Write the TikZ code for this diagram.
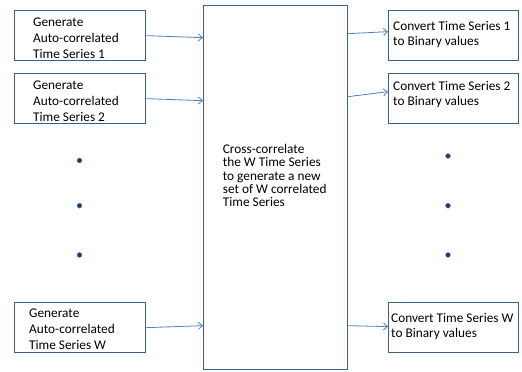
\documentclass[tikz,border=0pt]{standalone}
\usepackage{fontspec}
\setmainfont{Carlito}
\usetikzlibrary{arrows.meta}
\definecolor{boxc}{HTML}{3A5F8F}
\definecolor{arrc}{HTML}{5080C0}
\definecolor{dotc}{HTML}{1F3864}
\tikzset{
  box/.style={draw=boxc, line width=1.3pt, minimum width=131pt, minimum height=50pt, inner sep=0pt, anchor=north west},
  txt/.style={anchor=north west, inner sep=0pt, align=left, font=\fontsize{13.3}{16}\selectfont},
  rtxt/.style={txt, font=\fontsize{13.3}{15}\selectfont},
  arr/.style={draw=arrc, line width=0.8pt, -{Straight Barb[length=4pt,width=7pt]}},
  blob/.style={circle, fill=dotc, draw=arrc, line width=0.5pt, minimum size=4.8pt, inner sep=0pt}
}
\begin{document}
\begin{tikzpicture}[x=1pt,y=-1pt]
\fill[white] (0,0) rectangle (522,372);
\useasboundingbox (0,0) rectangle (522,372);
% left boxes
\node[box] (L1) at (14,10) {};
\node[box] (L2) at (14,73) {};
\node[box] (LW) at (14,302) {};
% center box
\node[box, minimum width=144pt, minimum height=364pt] (C) at (203,5) {};
% right boxes
\node[box, minimum width=130pt] (R1) at (388,10) {};
\node[box, minimum width=130pt] (R2) at (388,73) {};
\node[box, minimum width=130pt] (RW) at (388,302) {};
% texts
\node[txt] (tL1) at (33,18) {Generate\\Auto-correlated\\Time Series 1};
\node[txt] (tL2) at (33,81) {Generate\\Auto-correlated\\Time Series 2};
\node[txt] (tLW) at (29,309) {Generate\\Auto-correlated\\Time Series W};
\node[rtxt] (tR1) at (393,21) {Convert Time Series 1\\to Binary values};
\node[rtxt] (tR2) at (393,81) {Convert Time Series 2\\to Binary values};
\node[rtxt] (tRW) at (391,313) {Convert Time Series W\\to Binary values};
\node[txt, font=\fontsize{13.3}{13.35}\selectfont] (tC) at (222.7,144) {Cross-correlate\\the W Time Series\\to generate a new\\set of W correlated\\Time Series};
% dots
\node[blob] (dl1) at (79.5,160.5) {};
\node[blob] (dl2) at (79.5,205.7) {};
\node[blob] (dl3) at (79.5,255) {};
\node[blob] (dr1) at (448,156) {};
\node[blob] (dr2) at (448,205.7) {};
\node[blob] (dr3) at (448,255) {};
% arrows
\draw[arr] (L1.east) -- ([yshift=-2pt]C.west |- L1.east);
\draw[arr] (L2.east) -- ([yshift=-2pt]C.west |- L2.east);
\draw[arr] (LW.east) -- ([yshift=2pt]C.west |- LW.east);
\draw[arr] ([yshift=2pt]C.east |- R1.west) -- ([yshift=4pt]R1.west);
\draw[arr] ([yshift=2pt]C.east |- R2.west) -- ([yshift=7pt]R2.west);
\draw[arr] ([yshift=2pt]C.east |- RW.west) -- ([yshift=1pt]RW.west);
\end{tikzpicture}
\end{document}
